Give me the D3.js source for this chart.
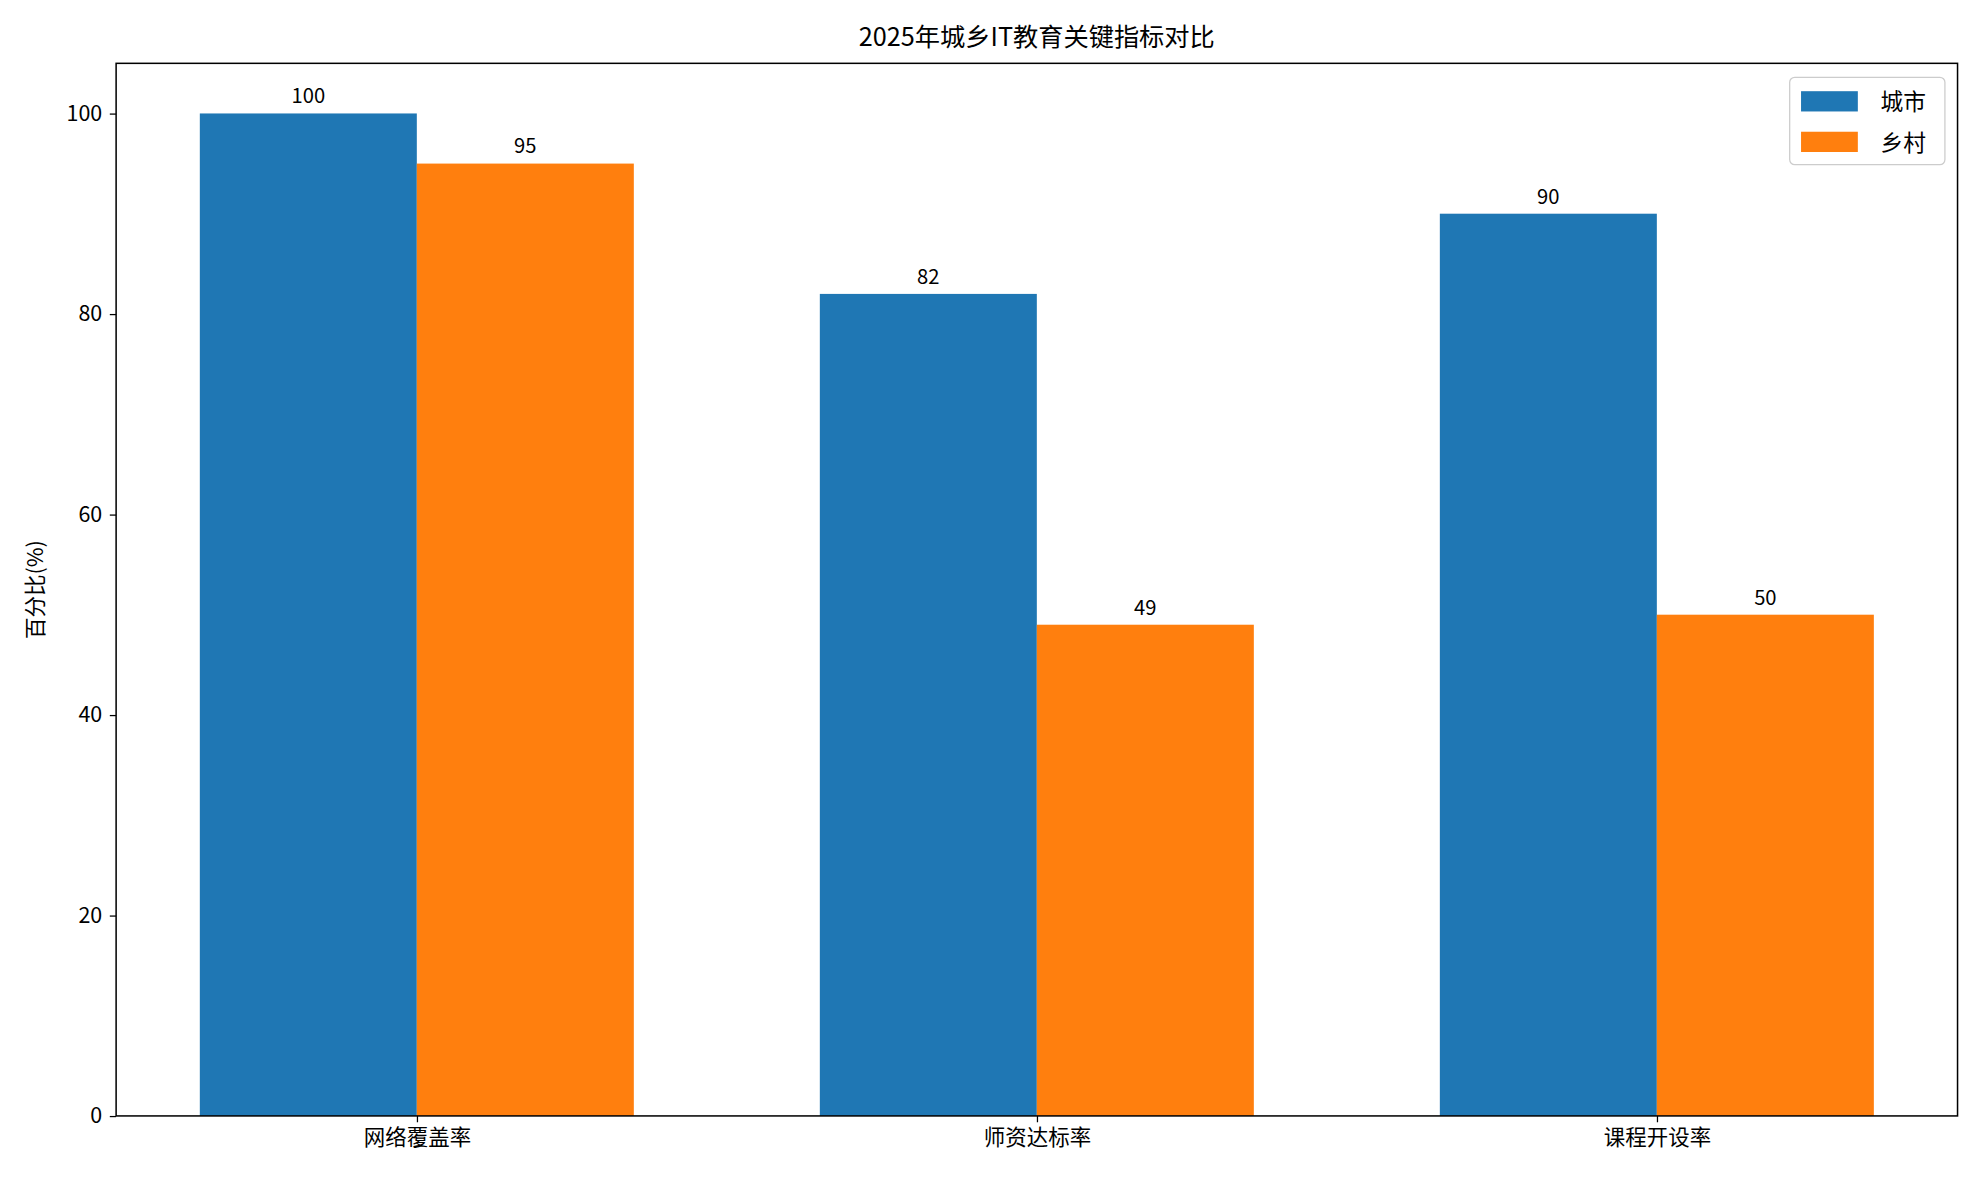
<!DOCTYPE html><html><head><meta charset="utf-8"><script src="https://cdn.jsdelivr.net/npm/d3@7"></script>
<style>body{margin:0;background:#fff}text{font-family:"Noto Sans CJK SC",sans-serif}</style></head><body>
<script>
const categories=["网络覆盖率","师资达标率","课程开设率"];
const series=["城市","乡村"];
const urban=[100,82,90];
const rural=[95,49,50];
const yTicks=[0,20,40,60,80,100];
const colors=["#1f77b4","#ff7f0e"];
const W=1568,H=930,L=92,R=1551,T=50,B=881;
const svg=d3.select("body").append("svg").attr("width",1979).attr("height",1178)
 .attr("viewBox",`0 0 ${W} ${H}`).attr("preserveAspectRatio","none");
const x=d3.scaleLinear().domain([-0.485,2.485]).range([L,R]);
const y=d3.scaleLinear().domain([0,105]).range([B,T]);
const bw=0.35;
[urban,rural].forEach((vals,s)=>{
 const off=s===0?-bw:0;
 svg.selectAll(null).data(vals).enter().append("rect")
  .attr("x",(d,i)=>x(i+off)).attr("width",x(bw)-x(0))
  .attr("y",d=>y(d)).attr("height",d=>y(0)-y(d)).attr("fill",colors[s]);
 svg.selectAll(null).data(vals).enter().append("text")
  .attr("x",(d,i)=>x(i+off+bw/2)).attr("y",d=>y(d)-8).attr("text-anchor","middle")
  .attr("font-size",16).text(d=>d);
});
const ya=svg.append("g").attr("transform",`translate(${L},0)`).call(d3.axisLeft(y).tickValues(yTicks).tickSize(5).tickPadding(6));
const xa=svg.append("g").attr("transform",`translate(0,${B})`).call(d3.axisBottom(x).tickValues([0,1,2]).tickFormat(i=>categories[i]).tickSize(5).tickPadding(6));
[ya,xa].forEach(a=>{a.select(".domain").remove();a.selectAll("text").attr("font-size",17).attr("fill","#000");a.selectAll("line").attr("stroke","#000");});
svg.append("rect").attr("x",L).attr("y",T).attr("width",R-L).attr("height",B-T).attr("fill","none").attr("stroke","#000").attr("stroke-width",1.2);
svg.append("text").attr("x",(L+R)/2).attr("y",36).attr("text-anchor","middle").attr("font-size",20).text("2025年城乡IT教育关键指标对比");
svg.append("text").attr("transform",`translate(34,${(T+B)/2}) rotate(-90)`).attr("text-anchor","middle").attr("font-size",17).text("百分比(%)");
const lg=svg.append("g");
lg.append("rect").attr("x",1418).attr("y",61).attr("width",123).attr("height",69).attr("rx",4).attr("fill","#fff").attr("stroke","#ccc");
series.forEach((s,i)=>{
 lg.append("rect").attr("x",1427).attr("y",72+i*32).attr("width",45).attr("height",16).attr("fill",colors[i]);
 lg.append("text").attr("x",1490).attr("y",87+i*32).attr("font-size",18).text(s);
});
</script></body></html>
